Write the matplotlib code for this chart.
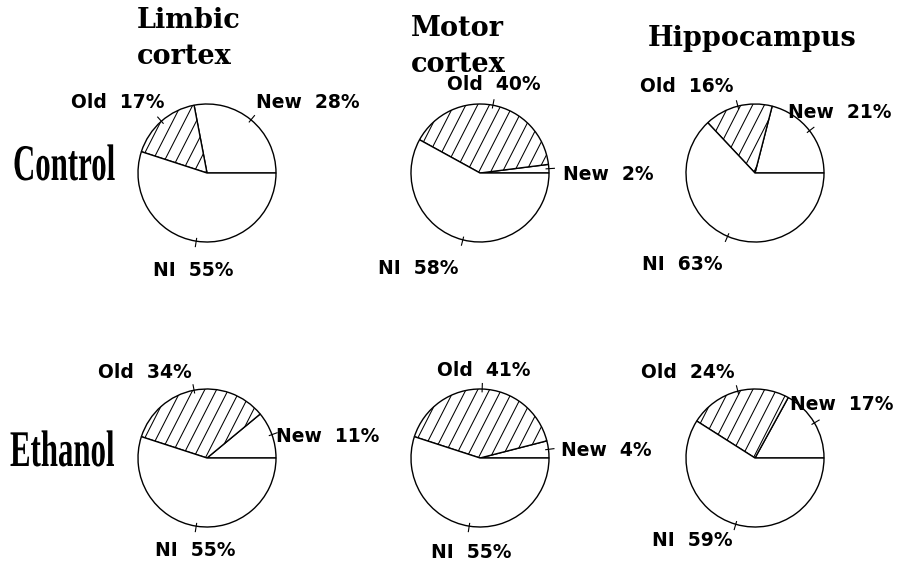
import numpy as np
import matplotlib.pyplot as plt
from matplotlib.collections import LineCollection
from matplotlib.patheffects import AbstractPathEffect
from matplotlib.transforms import Affine2D

categories = ["New", "Old", "NI"]
groups = ["Control", "Ethanol"]
regions = ["Limbic\ncortex", "Motor\ncortex", "Hippocampus"]

control_limbic = [28, 17, 55]
control_motor = [2, 40, 58]
control_hippo = [21, 16, 63]
ethanol_limbic = [11, 34, 55]
ethanol_motor = [4, 41, 55]
ethanol_hippo = [17, 24, 59]

values = [[control_limbic, control_motor, control_hippo],
          [ethanol_limbic, ethanol_motor, ethanol_hippo]]

# layout in pixels (origin top-left)
W, H = 900, 562
col_x = [207, 480, 755]
row_y = [173, 458]
R = 69
title_pos = [(137, 7), (411, 15), (648, 25)]
group_pos = [(13, 180), (10, 466)]
label_pos = [
    [[(308, 103), (118, 103), (193, 270)],
     [(608, 175), (494, 85), (418, 268)],
     [(840, 113), (687, 87), (682, 265)]],
    [[(328, 437), (145, 372), (195, 550)],
     [(606, 450), (484, 370), (471, 552)],
     [(842, 405), (688, 372), (692, 540)]],
]


class Squeeze(AbstractPathEffect):
    # narrows the glyphs horizontally around the text origin
    def __init__(self, sx):
        super().__init__()
        self.sx = sx

    def draw_path(self, renderer, gc, tpath, affine, rgbFace=None):
        x0, y0 = affine.transform((0, 0))
        t = affine + Affine2D().translate(-x0, -y0).scale(self.sx, 1).translate(x0, y0)
        renderer.draw_path(gc, tpath, t, rgbFace)


def hatch(ax, wedge, cx, cy, r, spacing=10.5, angle=63):
    a = np.deg2rad(angle)
    d = np.array([np.cos(a), np.sin(a)])
    n = np.array([-d[1], d[0]])
    c = np.array([cx, cy])
    segs = []
    for off in np.arange(-1.5 * r, 1.5 * r, spacing):
        p = c + n * off
        segs.append([p - d * 2 * r, p + d * 2 * r])
    lc = LineCollection(segs, colors="black", linewidths=0.75)
    ax.add_collection(lc)
    lc.set_clip_path(wedge)


fig = plt.figure(figsize=(9, 5.62), dpi=100)
ax = fig.add_axes([0, 0, 1, 1])

for i, row in enumerate(values):
    for j, vals in enumerate(row):
        cx, cy = col_x[j], H - row_y[i]
        wedges, _ = ax.pie(vals, center=(cx, cy), radius=R, startangle=0,
                           counterclock=True, colors=["white"] * 3,
                           wedgeprops=dict(edgecolor="black", linewidth=1.0))
        hatch(ax, wedges[1], cx, cy, R)
        for k, w in enumerate(wedges):
            mid = np.deg2rad((w.theta1 + w.theta2) / 2)
            ax.plot([cx + R * 0.96 * np.cos(mid), cx + R * 1.08 * np.cos(mid)],
                    [cy + R * 0.96 * np.sin(mid), cy + R * 1.08 * np.sin(mid)],
                    color="black", lw=0.8)
            lx, ly = label_pos[i][j][k]
            ax.text(lx, H - ly, f"{categories[k]}  {vals[k]}%", ha="center",
                    va="center", fontsize=13.5, fontweight="bold",
                    family="DejaVu Sans")

for j, t in enumerate(regions):
    x, y = title_pos[j]
    ax.text(x, H - y, t, ha="left", va="top", fontsize=19.5, fontweight="bold",
            family="DejaVu Serif", linespacing=1.45)

for i, g in enumerate(groups):
    x, y = group_pos[i]
    ax.text(x, H - y, g, ha="left", va="baseline", fontsize=37,
            fontweight="bold", family="Liberation Serif",
            path_effects=[Squeeze(0.6)])

ax.set_xlim(0, W)
ax.set_ylim(0, H)
ax.axis("off")

fig.savefig("out.png", dpi=100)
